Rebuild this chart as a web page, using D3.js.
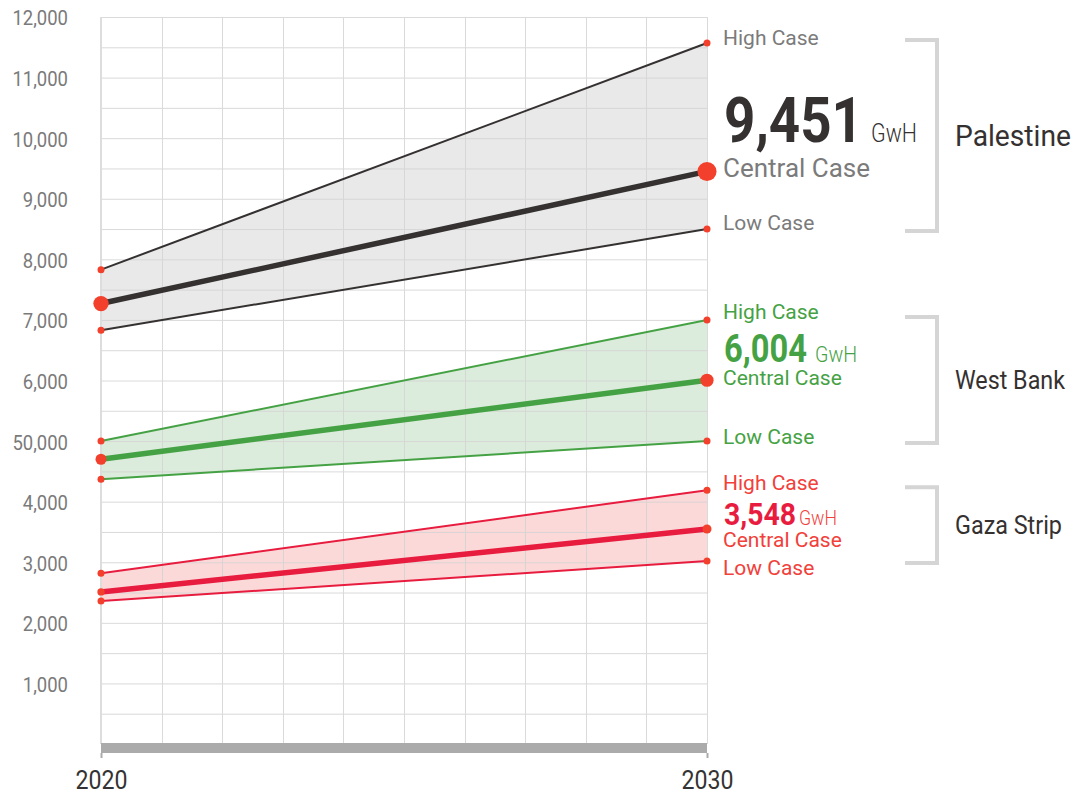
<!DOCTYPE html>
<html>
<head>
<meta charset="utf-8">
<script src="https://cdn.jsdelivr.net/npm/d3@7"></script>
<style>
  html, body { margin: 0; padding: 0; background: #fff; }
  svg { display: block; font-family: Roboto, "Noto Sans", sans-serif; }
</style>
</head>
<body>
<svg id="chart" width="1076" height="796"></svg>
<script>
// Electricity demand scenarios, 2020 → 2030 (GwH)
const years = [2020, 2030];
const regions = ["Palestine", "West Bank", "Gaza Strip"];
const highCase    = [[7830, 11570], [5000, 7000], [2820, 4190]];
const centralCase = [[7270, 9451],  [4700, 6004], [2510, 3548]];
const lowCase     = [[6830, 8500],  [4370, 5000], [2360, 3020]];
const headline    = ["9,451", "6,004", "3,548"];
const yTicks = [1000, 2000, 3000, 4000, 5000, 6000, 7000, 8000, 9000, 10000, 11000, 12000];
const yTickLabels = ["1,000", "2,000", "3,000", "4,000", "50,000", "6,000", "7,000", "8,000", "9,000", "10,000", "11,000", "12,000"];
const xTickLabels = ["2020", "2030"];

// Presentation per region
const styles = [
  { line: "#353131", band: "#e9e9e9", caseText: "#7b7b7b", numText: "#353131", unitText: "#353131",
    numSize: 63, numW: 139, unitSize: 25, unitW: 46, unitGap: 8, caseSize: [21, 26, 21],
    dyHigh: 2, dyCentral: 6, dyLow: 1, dyNum: -29, groupSize: 30, groupW: 116 },
  { line: "#45a244", band: "#dcecdc", caseText: "#45a244", numText: "#45a244", unitText: "#45a244",
    numSize: 38, numW: 83, unitSize: 22, unitW: 42, unitGap: 8, caseSize: [21, 21, 21],
    dyHigh: -1, dyCentral: 5, dyLow: 3, dyNum: -18, groupSize: 26, groupW: 110 },
  { line: "#e81c3e", band: "#fcd9d9", caseText: "#f2403a", numText: "#e81c3e", unitText: "#f2403a",
    numSize: 32, numW: 72, unitSize: 20, unitW: 38, unitGap: 3, caseSize: [21, 21, 21],
    dyHigh: 0, dyCentral: 18, dyLow: 14, dyNum: -4, groupSize: 26, groupW: 107 }
];
const dotColor = "#f2402c";

const svg = d3.select("#chart");
const x = d3.scaleLinear().domain([2020, 2030]).range([101, 707]);
const y = d3.scaleLinear().domain([0, 12000]).range([744, 17]);
const r = d3.scaleLinear().domain([0, 10000]).range([1.5, 10]);

// Scenario bands sit underneath the grid
const bands = svg.append("g");

// Grid
const gridLines = svg.append("g").attr("stroke", "#d4d4d4").attr("stroke-width", 1).attr("opacity", 0.85);
gridLines.selectAll("line.h").data(d3.range(500, 12001, 500)).join("line")
  .attr("x1", x(2020)).attr("x2", x(2030))
  .attr("y1", d => y(d) + 0.5).attr("y2", d => y(d) + 0.5);
gridLines.selectAll("line.v").data(d3.range(2021, 2031)).join("line")
  .attr("x1", d => Math.round(x(d)) + 0.5).attr("x2", d => Math.round(x(d)) + 0.5)
  .attr("y1", y(12000)).attr("y2", y(0));
svg.append("line").attr("x1", x(2020)).attr("x2", x(2020)).attr("y1", y(12000)).attr("y2", y(0))
  .attr("stroke", "#dddddd").attr("stroke-width", 2);

// Y axis labels (condensed look via horizontal scaling)
const yAxis = svg.append("g").attr("transform", "translate(68,0)")
  .call(d3.axisLeft(y).tickValues(yTicks).tickSize(0).tickPadding(0)
    .tickFormat((d, i) => yTickLabels[i]));
yAxis.select(".domain").remove();
yAxis.selectAll("text")
  .attr("fill", "#7a7a7a").attr("font-size", 21).attr("font-family", "Roboto")
  .attr("dy", "0.38em")
  .attr("transform", "scale(0.88,1)");

// X axis bar and labels
svg.append("rect").attr("x", x(2020)).attr("y", y(0) - 1)
  .attr("width", x(2030) - x(2020)).attr("height", 10).attr("fill", "#ababab");
const xAxis = svg.append("g").attr("transform", `translate(0,${y(0) + 9})`)
  .call(d3.axisBottom(x).tickValues(years).tickSize(5).tickPadding(13)
    .tickFormat((d, i) => xTickLabels[i]));
xAxis.select(".domain").remove();
xAxis.selectAll("line").attr("stroke", "#ababab").attr("stroke-width", 2);
xAxis.selectAll("text").attr("fill", "#333").attr("font-size", 25).attr("font-family", "Roboto")
  .attr("textLength", 52).attr("lengthAdjust", "spacingAndGlyphs");

// Bands, lines, dots
const area = d3.area().x((d, i) => x(years[i])).y0(d => y(d[0])).y1(d => y(d[1]));
const line = d3.line().x((d, i) => x(years[i])).y(d => y(d));

regions.forEach((name, k) => {
  const bandData = years.map((yr, i) => [lowCase[k][i], highCase[k][i]]);
  bands.append("path").datum(bandData).attr("d", area).attr("fill", styles[k].band);
});

const marks = svg.append("g");
regions.forEach((name, k) => {
  const st = styles[k];
  [highCase[k], lowCase[k]].forEach(series => {
    marks.append("path").datum(series).attr("d", line)
      .attr("fill", "none").attr("stroke", st.line).attr("stroke-width", 2);
  });
  marks.append("path").datum(centralCase[k]).attr("d", line)
    .attr("fill", "none").attr("stroke", st.line).attr("stroke-width", 5.5);
  [highCase[k], lowCase[k]].forEach(series => {
    marks.selectAll(null).data(series).join("circle")
      .attr("cx", (d, i) => x(years[i])).attr("cy", d => y(d)).attr("r", 3.5)
      .attr("fill", dotColor);
  });
  marks.selectAll(null).data(centralCase[k]).join("circle")
    .attr("cx", (d, i) => x(years[i])).attr("cy", d => y(d)).attr("r", d => r(d))
    .attr("fill", dotColor);
});

// Annotations at 2030
const ann = svg.append("g");
const labelX = 723;
regions.forEach((name, k) => {
  const st = styles[k];
  const hi = highCase[k][1], ce = centralCase[k][1], lo = lowCase[k][1];
  ann.append("text").attr("x", labelX).attr("y", y(hi) + st.dyHigh)
    .attr("fill", st.caseText).attr("font-size", st.caseSize[0]).text("High Case");
  ann.append("text").attr("x", labelX).attr("y", y(ce) + st.dyCentral)
    .attr("fill", st.caseText).attr("font-size", st.caseSize[1]).text("Central Case");
  ann.append("text").attr("x", labelX).attr("y", y(lo) + st.dyLow)
    .attr("fill", st.caseText).attr("font-size", st.caseSize[2]).text("Low Case");
  const ny = y(ce) + st.dyNum;
  ann.append("text").attr("x", labelX + 1).attr("y", ny)
    .attr("fill", st.numText).attr("font-size", st.numSize).attr("font-weight", 700)
    .attr("textLength", st.numW).attr("lengthAdjust", "spacingAndGlyphs").text(headline[k]);
  ann.append("text").attr("x", labelX + 1 + st.numW + st.unitGap).attr("y", ny)
    .attr("fill", st.unitText).attr("font-size", st.unitSize).attr("font-weight", 300)
    .attr("textLength", st.unitW).attr("lengthAdjust", "spacingAndGlyphs").text("GwH");

  // Bracket spanning high to low case
  const top = y(hi) - 3, bottom = y(lo) + 2;
  ann.append("path")
    .attr("d", `M905,${top}H937V${bottom}H905`)
    .attr("fill", "none").attr("stroke", "#d5d5d5").attr("stroke-width", 4);
  ann.append("text").attr("x", 955).attr("y", (top + bottom) / 2)
    .attr("dy", "0.36em")
    .attr("fill", "#353131").attr("font-size", st.groupSize)
    .attr("textLength", st.groupW).attr("lengthAdjust", "spacingAndGlyphs").text(name);
});
</script>
</body>
</html>
